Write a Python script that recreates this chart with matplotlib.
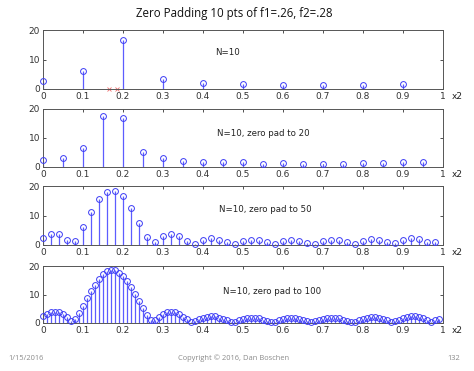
import matplotlib
matplotlib.use('Agg')
import matplotlib.pyplot as plt
import numpy as np

# Magnitudes (x axis is normalised frequency, "x2")
x10 = [0.0, 0.1, 0.2, 0.3, 0.4, 0.5, 0.6, 0.7, 0.8, 0.9]
y10 = [2.7, 6.1, 16.7, 3.3, 2.1, 1.6, 1.3, 1.2, 1.3, 1.8]
red_x = [0.165, 0.185]
red_y = [0.0, 0.0]

x20 = [0.0, 0.05, 0.1, 0.15, 0.2, 0.25, 0.3, 0.35, 0.4, 0.45,
       0.5, 0.55, 0.6, 0.65, 0.7, 0.75, 0.8, 0.85, 0.9, 0.95]
y20 = [2.5, 3.1, 6.4, 17.5, 16.9, 5.2, 3.2, 2.2, 1.85, 1.6,
       1.6, 1.2, 1.4, 1.2, 1.2, 1.2, 1.3, 1.3, 1.7, 1.7]

x50 = [i / 50 for i in range(50)]
y50 = [2.5, 3.7, 3.6, 1.6, 1.4, 6.1, 11.1, 15.5, 18.1, 18.3,
       16.6, 12.7, 7.6, 2.7, 0.9, 3.2, 3.7, 2.9, 1.2, 0.4,
       1.7, 2.3, 1.8, 1.0, 0.5, 1.5, 1.8, 1.6, 0.9, 0.35,
       1.4, 1.7, 1.4, 0.6, 0.5, 1.2, 1.7, 1.6, 0.9, 0.35,
       1.4, 2.0, 1.7, 0.9, 0.6, 1.6, 2.3, 2.2, 1.0, 0.9]

x100 = [i / 100 for i in range(100)]
y100 = [2.6, 3.3, 3.8, 4.0, 3.7, 3.1, 2.0, 0.8, 1.4, 3.5,
        6.1, 8.7, 11.1, 13.5, 15.5, 17.3, 18.1, 18.7, 18.5, 17.7,
        16.6, 14.8, 12.7, 10.2, 7.6, 5.1, 2.8, 1.0, 0.9, 2.2,
        3.2, 3.8, 3.9, 3.7, 3.0, 2.2, 1.3, 0.5, 0.6, 1.3,
        1.8, 2.2, 2.4, 2.3, 1.9, 1.5, 1.0, 0.5, 0.5, 1.1,
        1.5, 1.8, 1.9, 1.8, 1.6, 1.2, 0.8, 0.4, 0.5, 1.0,
        1.4, 1.7, 1.8, 1.7, 1.4, 1.0, 0.6, 0.4, 0.6, 1.0,
        1.3, 1.7, 1.8, 1.8, 1.6, 1.2, 0.8, 0.4, 0.4, 0.9,
        1.4, 1.8, 2.0, 2.0, 1.8, 1.4, 0.9, 0.4, 0.6, 1.2,
        1.7, 2.1, 2.3, 2.3, 2.1, 1.6, 1.0, 0.5, 0.9, 1.5]

labels = ['N=10', 'N=10, zero pad to 20', 'N=10, zero pad to 50', 'N=10, zero pad to 100']
label_pos = [(0.43, 12.3), (0.435, 11.7), (0.44, 12.2), (0.45, 11.0)]
series = [(x10, y10), (x20, y20), (x50, y50), (x100, y100)]

W, H = 474, 371
fig = plt.figure(figsize=(W / 100, H / 100), dpi=100)

# axes boxes in pixels: (top, bottom)
boxes = [(30, 89), (109, 167), (186, 245), (266, 323)]
left, right = 43, 443

stem_col = '#5c5cff'
mark_col = '#3c3cf5'

for k, ((top, bot), (xs, ys)) in enumerate(zip(boxes, series)):
    ax = fig.add_axes([left / W, 1 - bot / H, (right - left) / W, (bot - top) / H])
    ml, sl, bl = ax.stem(xs, ys, basefmt=' ')
    plt.setp(sl, color=stem_col, linewidth=0.9)
    plt.setp(ml, marker='o', markersize=4.2, markerfacecolor='none',
             markeredgecolor=mark_col, markeredgewidth=0.7, clip_on=False, zorder=4)
    if k == 0:
        ax.plot(red_x, red_y, 'x', color='#f07070', markersize=2.5, markeredgewidth=0.6,
                clip_on=False)
    ax.set_xlim(0, 1)
    ax.set_ylim(0, 20)
    ax.set_xticks(np.arange(0, 1.01, 0.1))
    ax.set_xticklabels(['0', '0.1', '0.2', '0.3', '0.4', '0.5', '0.6', '0.7', '0.8', '0.9', '1'])
    ax.set_yticks([0, 10, 20])
    ax.tick_params(direction='in', length=2.5, width=0.6, labelsize=6.5,
                   top=True, right=True, pad=2, colors='#333333')
    for s in ax.spines.values():
        s.set_color('#555555')
        s.set_linewidth(0.7)
    ax.text(label_pos[k][0], label_pos[k][1], labels[k], fontsize=6.2, color='#222222',
            ha='left', va='center')
    ax.text(1.022, -0.125, 'x2', transform=ax.transAxes, fontsize=6.5, color='#222222',
            ha='left', va='center')

fig.text(234 / W, 1 - 13 / H, 'Zero Padding 10 pts of f1=.26, f2=.28', fontsize=8.3,
         ha='center', va='center', family='Open Sans', color='#111111')
fig.text(8 / W, 1 - 358 / H, '1/15/2016', fontsize=5.4, ha='left', va='center',
         family='Open Sans', color='#8a8a8a')
fig.text(234 / W, 1 - 358 / H, 'Copyright © 2016, Dan Boschen', fontsize=5.4,
         ha='center', va='center', family='Open Sans', color='#8a8a8a')
fig.text(460 / W, 1 - 358 / H, '132', fontsize=5.4, ha='right', va='center',
         family='Open Sans', color='#8a8a8a')

fig.savefig('out.png', dpi=100)
